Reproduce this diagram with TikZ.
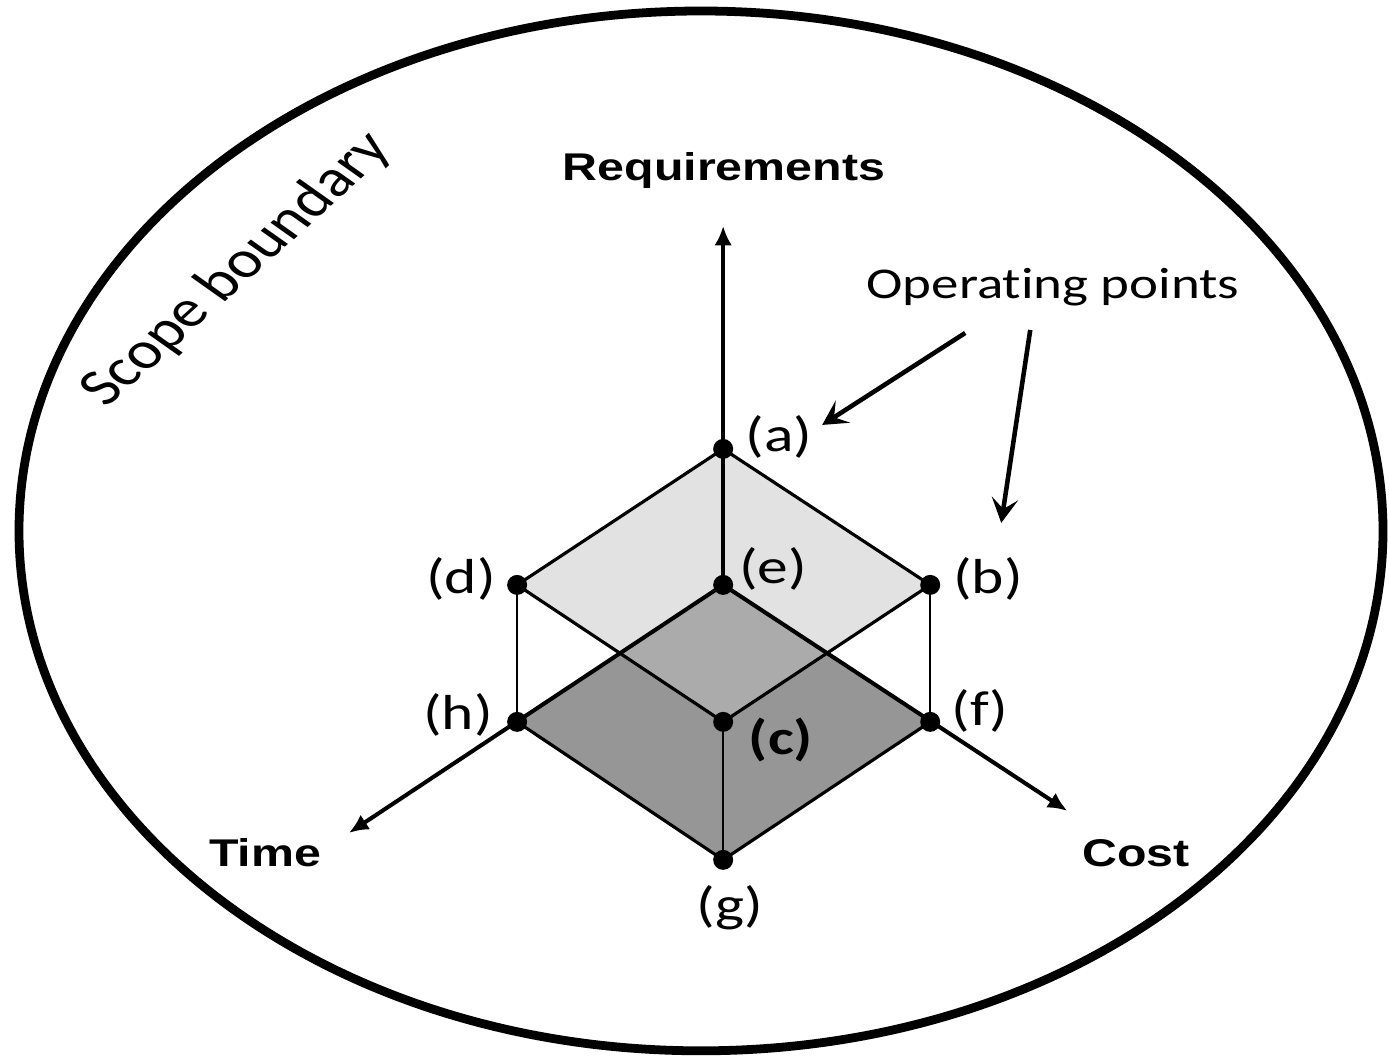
\documentclass[tikz,border=0pt]{standalone}
\usepackage{fontspec}
\setmainfont{Carlito}
\newfontfamily\axisfont{Liberation Sans}
\usetikzlibrary{arrows.meta}
\definecolor{FaceDark}{RGB}{150,150,150}
\definecolor{FaceLight}{RGB}{194,194,194}

\begin{document}
\begin{tikzpicture}[
    x=0.016cm,
    y=-0.02cm,
    xscale=1.25,
    transform shape,
    >={Latex[length=11pt,width=10pt]},
    boundary/.style={
        draw,
        line width=5pt
    },
    edge/.style={
        draw,
        line width=1.8pt,
        line join=round
    },
    riser/.style={
        draw,
        line width=1.4pt
    },
    axis/.style={
        ->,
        line width=2.3pt
    },
    pointer/.style={
        -{Stealth[length=14pt,width=15pt,inset=6pt]},
        line width=2.6pt
    },
    darkface/.style={
        fill=FaceDark
    },
    lightface/.style={
        fill=FaceLight,
        fill opacity=0.48
    },
    ptlabel/.style={
        font=\fontsize{28}{32}\selectfont,
        inner sep=0pt
    },
    axislabel/.style={
        font=\axisfont\bfseries\fontsize{22}{26}\selectfont,
        inner sep=0pt
    }
]

\useasboundingbox (0,0) rectangle (1389,1060);

\draw[boundary] (701,531) ellipse [x radius=682, y radius=520];

\node[font=\fontsize{30}{34}\selectfont, rotate=48.5, inner sep=0pt] (scope) at (237,270) {Scope boundary};

% corner points
\coordinate (a) at (723,449);
\coordinate (d) at (517,585);
\coordinate (e) at (723,585);
\coordinate (b) at (930,585);
\coordinate (h) at (517,722);
\coordinate (c) at (723,722);
\coordinate (f) at (930,722);
\coordinate (g) at (723,860);

\coordinate (reqtip) at (723,226);
\coordinate (timetip) at (349,833);
\coordinate (costtip) at (1067,811);

% faces
\fill[darkface] (e) -- (f) -- (g) -- (h) -- cycle;
\fill[lightface] (a) -- (b) -- (c) -- (d) -- cycle;

\draw[edge] (a) -- (b) -- (c) -- (d) -- cycle;
\draw[edge] (f) -- (g) -- (h);
\draw[riser] (d) -- (h) (b) -- (f) (c) -- (g);

% axes
\draw[axis] (e) -- (reqtip);
\draw[axis] (e) -- (timetip);
\draw[axis] (e) -- (costtip);

\foreach \p in {a,b,c,d,e,f,g,h}
    \fill (\p) circle (10);

\node[axislabel] (req) at (724,171) {Requirements};
\node[axislabel] (time) at (265,853) {Time};
\node[axislabel] (cost) at (1136,853) {Cost};

\node[ptlabel] (la) at (779,437) {(a)};
\node[ptlabel] (lb) at (988,579) {(b)};
\node[ptlabel, font=\bfseries\fontsize{28}{32}\selectfont] (lc) at (781,740) {(c)};
\node[ptlabel] (ld) at (461,579) {(d)};
\node[ptlabel] (le) at (773,569) {(e)};
\node[ptlabel] (lf) at (980,711) {(f)};
\node[ptlabel] (lg) at (730,908) {(g)};
\node[ptlabel] (lh) at (458,715) {(h)};

% kern keeps t and i apart
\node[font=\fontsize{25}{29}\selectfont, inner sep=0pt] (ops) at (1053,287) {Operat\kern0pt ing points};

\coordinate (opa) at (965,333);
\coordinate (opb) at (1030,330);
\coordinate (toa) at (822,425);
\coordinate (tob) at (1001,523);

\draw[pointer] (opa) -- (toa);
\draw[pointer] (opb) -- (tob);

\end{tikzpicture}
\end{document}
